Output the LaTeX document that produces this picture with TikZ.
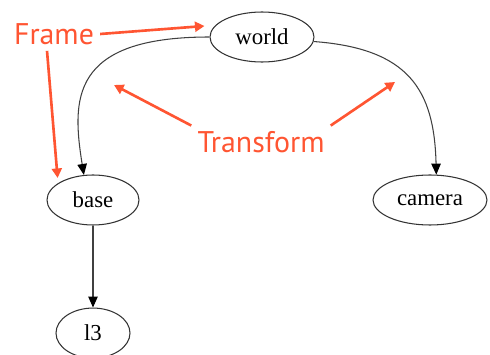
\documentclass[tikz,border=0pt]{standalone}
\usepackage{fontspec}
\setmainfont{Liberation Serif}
\newfontfamily\notefont{PT Sans}
\usetikzlibrary{arrows.meta,shapes.geometric,positioning,calc}
\definecolor{notered}{RGB}{255,85,50}

\begin{document}
\begin{tikzpicture}

  \tikzstyle{every node}=[font=\fontsize{13}{15}\selectfont]

  \tikzset{tfnode/.style={draw=black!80,ellipse,inner sep=0,minimum height=1cm,line width=0.6pt}}
  \tikzset{tfptr/.style={draw=black!75,line width=0.6pt,-{Triangle[length=2.2mm,width=1.9mm,black]}}}
  \tikzset{annot/.style={text=notered,font=\notefont\fontsize{17}{20}\selectfont}}
  \tikzset{annotptr/.style={draw=notered,line width=1.5pt,-{Triangle[length=1.9mm,width=2mm]}}}

  \useasboundingbox (0,0) rectangle (9.8,-7.1);

  % Frames
  \node[tfnode,minimum width=2.08cm] (world) at (5.24,-0.74) {world};
  \node[tfnode,minimum width=1.84cm] (base) at (1.86,-4.0) {base};
  \node[tfnode,minimum width=2.28cm] (camera) at (8.6,-4.0) {camera};
  \node[tfnode,minimum width=1.48cm,below=1.64 of base] (l3) {l3};

  % Transforms between frames
  \draw[tfptr] (world.west) .. controls +(-2.8,0) and +(-0.24,1.5) .. (base.110);
  \draw[tfptr] (world.-5) .. controls +(1.9,-0.14) and +(-0.04,1.7) .. (camera.76);
  \draw[tfptr] (base) -- (l3);

  % Notes
  \node[annot] (frm) at (1.08,-0.68) {Frame};
  \node[annot] (tfm) at (5.22,-2.85) {Transform};

  % Pointers of the notes
  \coordinate (frame at world) at ($(world.west) + (-0.1,0.22)$);
  \coordinate (frame at base) at ($(base.north west) + (-0.05,0.08)$);
  \draw[annotptr] (frm.east) -- (frame at world);
  \draw[annotptr] ([xshift=-0.14cm]frm.south) -- (frame at base);

  \coordinate (tf left) at (2.28,-1.7);
  \coordinate (tf right) at (7.9,-1.64);
  \draw[annotptr] (tfm.north west) -- (tf left);
  \draw[annotptr] (tfm.north east) -- (tf right);

\end{tikzpicture}
\end{document}
